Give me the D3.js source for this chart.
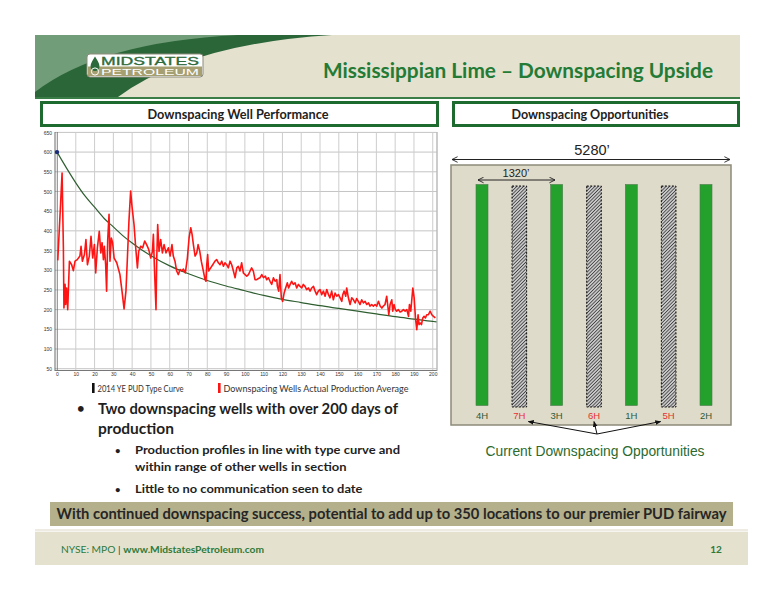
<!DOCTYPE html>
<html lang="en">
<head>
<meta charset="utf-8">
<title>Mississippian Lime – Downspacing Upside</title>
<script src="https://d3js.org/d3.v7.min.js"></script>
<style>
    body { margin: 0; background: #fff; }
    svg { display: block; }
    .cal { font-family: Lato, "Open Sans", sans-serif; }
    .ari { font-family: "Liberation Sans", Arial, sans-serif; }
</style>
</head>
<body>
<div id="slide"></div>
<script>
    // ---- chart data ----
    var typeCurveDays = [0, 5, 10, 15, 20, 25, 30, 35, 40, 45, 50, 60, 70, 80, 90, 100, 110, 120, 130, 140, 150, 160, 170, 180, 190, 200, 202];
    var typeCurveRate = [600, 560, 522, 488, 460, 432, 410, 388, 369, 352, 337, 311, 291, 274, 260, 248, 236, 226, 218, 210, 203, 196, 189, 182, 176, 170, 169];

    // [day, rate] for the downspacing wells average
    var actualProduction = [
        [0.4, 325], [1.1, 391], [1.8, 458], [2.7, 547], [3.4, 357], [3.7, 204], [4.3, 264], [4.6, 213], [5.1, 255], [5.7, 200],
        [6.6, 323], [7.8, 314], [8.7, 299], [9.6, 323], [10.8, 327], [12.2, 336], [12.8, 361], [13.5, 323], [14.6, 340], [15.4, 378],
        [16.2, 314], [17.2, 336], [18.1, 386], [19, 331], [19.9, 365], [20.6, 293], [21.5, 357], [22.5, 399], [23.3, 344], [24, 370],
        [24.7, 327], [25.2, 361], [25.9, 314], [26.4, 247], [27, 378], [27.7, 442], [28.2, 323], [28.9, 382], [29.6, 370], [30.4, 331],
        [31.8, 319], [33.5, 289], [34.6, 247], [35.7, 202], [36.7, 247], [37.4, 323], [38.3, 425], [39.2, 501], [39.9, 463], [41, 416],
        [41.9, 357], [42.8, 306], [43.5, 348], [44.5, 361], [45.6, 357], [46.7, 374], [47.7, 365], [48.8, 353], [49.9, 331], [50.8, 348],
        [51.3, 391], [51.8, 314], [52.4, 238], [52.7, 200], [53.1, 331], [53.6, 416], [54.3, 348], [55.2, 378], [56.1, 344], [57, 365],
        [58, 344], [59.3, 357], [60.2, 336], [61.2, 365], [61.9, 336], [62.8, 323], [63.7, 298], [64.6, 289], [65.5, 302], [66.4, 298],
        [67.3, 303], [68.3, 293], [69.4, 331], [70.3, 382], [71.2, 408], [71.9, 391], [72.6, 365], [73.5, 336], [74.4, 344], [75.1, 365],
        [76, 348], [76.8, 323], [77.9, 298], [78.8, 276], [79.3, 272], [79.7, 314], [80.2, 340], [80.7, 298], [81.8, 306], [82.9, 314],
        [84.1, 323], [85, 327], [85.9, 319], [86.8, 314], [87.7, 323], [88.6, 310], [89.4, 319], [90.3, 314], [91.2, 306], [92.1, 323],
        [93, 314], [93.9, 298], [94.8, 281], [95.7, 306], [96.5, 310], [97.4, 298], [98.3, 319], [99.2, 293], [100.1, 289], [101, 285],
        [101.9, 289], [102.8, 298], [103.6, 306], [104.5, 298], [105.4, 276], [106.3, 276], [107.2, 279], [108.1, 281], [109, 289], [109.9, 281],
        [110.9, 285], [111.6, 276], [112.5, 281], [113.4, 272], [114.3, 264], [115.2, 281], [116.1, 272], [117, 276], [117.3, 259], [118, 247],
        [118.7, 289], [119.4, 230], [120.1, 221], [120.9, 242], [121.7, 255], [122.6, 268], [123.3, 255], [124.1, 264], [124.9, 272], [125.8, 264],
        [126.7, 268], [127.6, 255], [128.5, 264], [129.4, 259], [130.3, 255], [131.1, 264], [132, 259], [132.9, 251], [133.8, 255], [134.7, 247],
        [135.6, 255], [136.5, 259], [137.4, 247], [138.2, 238], [139.1, 247], [140, 251], [140.9, 238], [141.8, 247], [142.7, 234], [143.6, 251],
        [144.5, 238], [145.3, 230], [146.2, 247], [147.1, 225], [148, 242], [148.9, 234], [149.8, 238], [150.7, 230], [151.6, 221], [152.1, 238],
        [152.8, 247], [153.7, 234], [154.2, 255], [155.1, 230], [156, 213], [156.9, 230], [157.8, 225], [158.7, 217], [159.5, 228], [160.4, 221],
        [161.3, 213], [162.2, 225], [163.1, 217], [164, 221], [164.9, 213], [165.8, 217], [166.6, 209], [167.5, 213], [168.4, 209], [169.3, 213],
        [170.2, 209], [171.1, 221], [172, 209], [172.9, 204], [173.7, 209], [174.6, 213], [175.5, 234], [176, 213], [176.6, 187], [177.3, 213],
        [178.2, 225], [178.7, 196], [179.4, 213], [180.1, 200], [180.8, 196], [181.7, 200], [182.6, 194], [183.5, 196], [184.4, 200], [185.3, 196],
        [186.2, 200], [187.1, 183], [187.6, 213], [188.3, 196], [189.4, 255], [190.1, 230], [190.8, 179], [191.5, 149], [192.2, 187], [192.7, 162],
        [193.3, 166], [194, 162], [194.7, 179], [195.4, 183], [196.1, 179], [196.8, 187], [197.7, 187], [198.6, 196], [199.5, 187], [200.4, 183],
        [201.4, 179]
    ];

    var yTicks = [50, 100, 150, 200, 250, 300, 350, 400, 450, 500, 550, 600, 650];
    var xTicks = [0, 10, 20, 30, 40, 50, 60, 70, 80, 90, 100, 110, 120, 130, 140, 150, 160, 170, 180, 190, 200];
    var legendLabels = ["2014 YE PUD Type Curve", "Downspacing Wells Actual Production Average"];

    // ---- section diagram data ----
    var wellNames = ["4H", "7H", "3H", "6H", "1H", "5H", "2H"];
    var wellIsOpportunity = [false, true, false, true, false, true, false];
    var opportunityWells = ["7H", "6H", "5H"];

    // ---- text ----
    var slideTitle = "Mississippian Lime \u2013 Downspacing Upside";
    var bulletMain = ["Two downspacing wells with over 200 days of", "production"];
    var subBullets = [
        ["Production profiles in line with type curve and", "within range of other wells in section"],
        ["Little to no communication seen to date"]
    ];
    var banner = "With continued downspacing success, potential to add up to 350 locations to our premier PUD fairway";

    var svg = d3.select("#slide")
        .append("svg")
        .attr("width", 776)
        .attr("height", 600);

    var defs = svg.append("defs");

    // ---------- header ----------
    svg.append("rect")
        .attr("x", 35).attr("y", 35)
        .attr("width", 705).attr("height", 62)
        .attr("fill", "#e4e1cf");
    svg.append("path")
        .attr("d", "M35,35 H332 Q190,44 118,97 H35 Z")
        .attr("fill", "#2b6638");
    svg.append("path")
        .attr("d", "M35,35 H238 Q100,42 35,92 Z")
        .attr("fill", "#729d79");
    svg.append("rect")
        .attr("x", 35).attr("y", 97)
        .attr("width", 705).attr("height", 2)
        .attr("fill", "#3b7d46");

    // logo
    var logo = svg.append("g").attr("transform", "translate(87,54)");
    logo.append("rect")
        .attr("width", 116).attr("height", 23).attr("rx", 3)
        .attr("fill", "#fff").attr("stroke", "#8d8b7b");
    logo.append("rect")
        .attr("x", 1).attr("y", 12.5)
        .attr("width", 114).attr("height", 9.5)
        .attr("fill", "#a69f71");
    logo.append("path")
        .attr("d", "M8,2.5 C6,6 3.5,9 3.5,12.5 A4.5,4.5 0 0 0 12.5,12.5 C12.5,9 10,6 8,2.5 Z")
        .attr("fill", "#2d6a3b");
    logo.append("circle")
        .attr("cx", 8).attr("cy", 17.5).attr("r", 3.6)
        .attr("fill", "none").attr("stroke", "#fff").attr("stroke-width", 1);
    logo.append("text")
        .attr("class", "ari")
        .attr("x", 14).attr("y", 11)
        .attr("font-size", 10).attr("textLength", 98).attr("lengthAdjust", "spacingAndGlyphs")
        .attr("fill", "#2e6b3a").attr("stroke", "#2e6b3a").attr("stroke-width", 0.3)
        .text("MIDSTATES");
    logo.append("text")
        .attr("class", "ari")
        .attr("x", 14).attr("y", 21.3)
        .attr("font-size", 8.5).attr("textLength", 98).attr("lengthAdjust", "spacingAndGlyphs")
        .attr("fill", "#fff")
        .text("PETROLEUM");

    svg.append("text")
        .attr("class", "cal")
        .attr("x", 713).attr("y", 78)
        .attr("text-anchor", "end")
        .attr("font-size", 21).attr("font-weight", "bold")
        .attr("textLength", 390).attr("lengthAdjust", "spacingAndGlyphs")
        .attr("fill", "#237b36")
        .text(slideTitle);

    // ---------- section headers ----------
    function sectionBox(x, w, label, cx, len) {
        svg.append("rect")
            .attr("x", x).attr("y", 102.5)
            .attr("width", w).attr("height", 23)
            .attr("fill", "#fff").attr("stroke", "#1e6b30").attr("stroke-width", 3);
        svg.append("text")
            .attr("class", "cal")
            .attr("x", cx).attr("y", 118.5)
            .attr("text-anchor", "middle")
            .attr("font-size", 12.5).attr("font-weight", "bold")
            .attr("textLength", len).attr("lengthAdjust", "spacingAndGlyphs")
            .attr("fill", "#222")
            .text(label);
    }
    sectionBox(41.5, 396, "Downspacing Well Performance", 238, 181);
    sectionBox(453.5, 285, "Downspacing Opportunities", 590, 157);

    // ---------- production chart ----------
    var x = d3.scaleLinear().domain([0, 202]).range([57, 436.5]);
    var y = d3.scaleLinear().domain([50, 650]).range([368.7, 132.4]);

    var chart = svg.append("g");

    chart.selectAll(".hgrid")
        .data(yTicks)
        .enter().append("line")
        .attr("class", "hgrid")
        .attr("x1", 55).attr("x2", 436.5)
        .attr("y1", function (d) { return y(d); })
        .attr("y2", function (d) { return y(d); })
        .attr("stroke", "#c4c4c4").attr("stroke-width", 1);

    chart.selectAll(".vgrid")
        .data(xTicks.filter(function (d) { return d > 0; }))
        .enter().append("line")
        .attr("class", "vgrid")
        .attr("x1", function (d) { return x(d); })
        .attr("x2", function (d) { return x(d); })
        .attr("y1", 132.4).attr("y2", 370)
        .attr("stroke", "#cdcdcd").attr("stroke-width", 1);

    // axes frame
    chart.append("line").attr("x1", 55).attr("x2", 55).attr("y1", 132).attr("y2", 371).attr("stroke", "#444").attr("stroke-width", 0.8);
    chart.append("line").attr("x1", 57.3).attr("x2", 57.3).attr("y1", 132).attr("y2", 371).attr("stroke", "#666").attr("stroke-width", 0.8);
    chart.append("line").attr("x1", 55).attr("x2", 437).attr("y1", 370.5).attr("y2", 370.5).attr("stroke", "#777").attr("stroke-width", 1);
    chart.append("line").attr("x1", 437).attr("x2", 437).attr("y1", 132).attr("y2", 371).attr("stroke", "#999").attr("stroke-width", 1);

    var yAxis = chart.append("g")
        .attr("transform", "translate(55,0)")
        .call(d3.axisLeft(y).tickValues(yTicks).tickSize(0).tickPadding(3));
    var xAxis = chart.append("g")
        .attr("transform", "translate(0,370)")
        .call(d3.axisBottom(x).tickValues(xTicks).tickSize(0).tickPadding(2));
    [yAxis, xAxis].forEach(function (a) {
        a.select(".domain").remove();
        a.selectAll("text")
            .attr("font-family", "Liberation Sans, Arial, sans-serif")
            .attr("font-size", 5)
            .attr("fill", "#333");
    });

    var typeLine = d3.line()
        .x(function (d, i) { return x(typeCurveDays[i]); })
        .y(function (d) { return y(d); })
        .curve(d3.curveMonotoneX);

    chart.append("path")
        .attr("d", typeLine(typeCurveRate))
        .attr("fill", "none")
        .attr("stroke", "#2f5e30")
        .attr("stroke-width", 1.2);

    var actualLine = d3.line()
        .x(function (d) { return x(d[0]); })
        .y(function (d) { return y(d[1]); });

    chart.append("path")
        .attr("d", actualLine(actualProduction))
        .attr("fill", "none")
        .attr("stroke", "#ff1414")
        .attr("stroke-width", 1.6)
        .attr("stroke-linejoin", "round");

    chart.append("circle")
        .attr("cx", x(typeCurveDays[0]))
        .attr("cy", y(typeCurveRate[0]))
        .attr("r", 2.2)
        .attr("fill", "#1b2c78");

    // legend
    var legendX = [92, 218];
    var legendColor = ["#111", "#ff1414"];
    var legendLen = [86, 185];
    legendLabels.forEach(function (label, i) {
        chart.append("rect")
            .attr("x", legendX[i]).attr("y", 383)
            .attr("width", 2.6).attr("height", 10)
            .attr("fill", legendColor[i]);
        chart.append("text")
            .attr("class", "cal")
            .attr("x", legendX[i] + 5.5).attr("y", 391.5)
            .attr("font-size", 10)
            .attr("textLength", legendLen[i]).attr("lengthAdjust", "spacingAndGlyphs")
            .attr("fill", "#333")
            .text(label);
    });

    // ---------- bullets ----------
    var txt = svg.append("g").attr("class", "cal").attr("fill", "#1f1f1f").attr("font-weight", "bold");
    txt.append("text").attr("x", 77).attr("y", 413).attr("font-size", 13).text("\u2022");
    txt.append("text").attr("x", 98).attr("y", 414).attr("font-size", 15.5)
        .attr("textLength", 300).attr("lengthAdjust", "spacingAndGlyphs").text(bulletMain[0]);
    txt.append("text").attr("x", 98).attr("y", 434).attr("font-size", 15.5)
        .attr("textLength", 76).attr("lengthAdjust", "spacingAndGlyphs").text(bulletMain[1]);

    var subY = [[454, 471], [493]];
    var subLen = [[265, 211.5], [227.5]];
    subBullets.forEach(function (lines, i) {
        txt.append("text").attr("x", 115).attr("y", subY[i][0]).attr("font-size", 9.5).text("\u2022");
        lines.forEach(function (line, j) {
            txt.append("text")
                .attr("x", 135).attr("y", subY[i][j])
                .attr("font-size", 12)
                .attr("textLength", subLen[i][j]).attr("lengthAdjust", "spacingAndGlyphs")
                .text(line);
        });
    });

    // ---------- section diagram ----------
    var hatch = defs.append("pattern")
        .attr("id", "hatch")
        .attr("patternUnits", "userSpaceOnUse")
        .attr("width", 2.4).attr("height", 2.4)
        .attr("patternTransform", "rotate(45)");
    hatch.append("rect").attr("width", 2.4).attr("height", 2.4).attr("fill", "#c8c8c8");
    hatch.append("line").attr("x1", 0).attr("y1", 0).attr("x2", 0).attr("y2", 2.4)
        .attr("stroke", "#2e2e2e").attr("stroke-width", 1.4);

    defs.append("marker")
        .attr("id", "vhead")
        .attr("viewBox", "0 0 10 10")
        .attr("refX", 9).attr("refY", 5)
        .attr("markerWidth", 7).attr("markerHeight", 7)
        .attr("markerUnits", "userSpaceOnUse")
        .attr("orient", "auto-start-reverse")
        .append("path")
        .attr("d", "M1,1 L9,5 L1,9")
        .attr("fill", "none").attr("stroke", "#222").attr("stroke-width", 1.3);

    defs.append("marker")
        .attr("id", "fhead")
        .attr("viewBox", "0 0 10 10")
        .attr("refX", 9).attr("refY", 5)
        .attr("markerWidth", 6).attr("markerHeight", 6)
        .attr("markerUnits", "userSpaceOnUse")
        .attr("orient", "auto")
        .append("path")
        .attr("d", "M0,1 L10,5 L0,9 Z")
        .attr("fill", "#111");

    var diag = svg.append("g");

    diag.append("text")
        .attr("class", "ari")
        .attr("x", 592).attr("y", 155)
        .attr("text-anchor", "middle")
        .attr("font-size", 14.5).attr("fill", "#222")
        .text("5280\u2019");
    diag.append("line")
        .attr("x1", 452).attr("x2", 730).attr("y1", 159.5).attr("y2", 159.5)
        .attr("stroke", "#222").attr("stroke-width", 1)
        .attr("marker-start", "url(#vhead)").attr("marker-end", "url(#vhead)");

    diag.append("rect")
        .attr("x", 451).attr("y", 165)
        .attr("width", 280).attr("height", 260)
        .attr("fill", "#dfdbca").attr("stroke", "#8c8a7a").attr("stroke-width", 1.5);

    diag.append("text")
        .attr("class", "ari")
        .attr("x", 516).attr("y", 177)
        .attr("text-anchor", "middle")
        .attr("font-size", 11).attr("fill", "#222")
        .text("1320\u2019");
    diag.append("line")
        .attr("x1", 478).attr("x2", 555).attr("y1", 180).attr("y2", 180)
        .attr("stroke", "#222").attr("stroke-width", 1)
        .attr("marker-start", "url(#vhead)").attr("marker-end", "url(#vhead)");

    var wx = d3.scalePoint().domain(wellNames).range([482, 706]);

    diag.selectAll(".well")
        .data(wellNames)
        .enter().append("rect")
        .attr("class", "well")
        .attr("x", function (d, i) { return wx(d) - (wellIsOpportunity[i] ? 7.3 : 6); })
        .attr("y", function (d, i) { return wellIsOpportunity[i] ? 186 : 184.5; })
        .attr("width", function (d, i) { return wellIsOpportunity[i] ? 14.6 : 12; })
        .attr("height", 221)
        .attr("fill", function (d, i) { return wellIsOpportunity[i] ? "url(#hatch)" : "#24a02c"; })
        .attr("stroke", function (d, i) { return wellIsOpportunity[i] ? "#111" : "#4c7c4c"; })
        .attr("stroke-width", function (d, i) { return wellIsOpportunity[i] ? 1 : 0.6; })
        .attr("stroke-dasharray", function (d, i) { return wellIsOpportunity[i] ? "2,1.5" : null; });

    diag.selectAll(".wlabel")
        .data(wellNames)
        .enter().append("text")
        .attr("class", "wlabel ari")
        .attr("x", function (d) { return wx(d); })
        .attr("y", 418.5)
        .attr("text-anchor", "middle")
        .attr("font-size", 9.5)
        .attr("fill", function (d, i) { return wellIsOpportunity[i] ? "#e8302e" : "#2f5a36"; })
        .text(function (d) { return d; });

    var arrowOrigin = [597, 434];
    var arrowShift = [9, 0, -8];
    opportunityWells.forEach(function (w, i) {
        diag.append("line")
            .attr("x1", arrowOrigin[0]).attr("y1", arrowOrigin[1])
            .attr("x2", wx(w) + arrowShift[i]).attr("y2", 421.5)
            .attr("stroke", "#111").attr("stroke-width", 1)
            .attr("marker-end", "url(#fhead)");
    });

    diag.append("text")
        .attr("class", "ari")
        .attr("x", 595).attr("y", 456)
        .attr("text-anchor", "middle")
        .attr("font-size", 14)
        .attr("textLength", 219).attr("lengthAdjust", "spacingAndGlyphs")
        .attr("fill", "#2c6a2e")
        .text("Current Downspacing Opportunities");

    // ---------- banner and footer ----------
    svg.append("rect")
        .attr("x", 50).attr("y", 502)
        .attr("width", 683).attr("height", 24)
        .attr("fill", "#b4b08b");
    svg.append("text")
        .attr("class", "cal")
        .attr("x", 391.5).attr("y", 519)
        .attr("text-anchor", "middle")
        .attr("font-size", 15).attr("font-weight", "bold")
        .attr("textLength", 670).attr("lengthAdjust", "spacingAndGlyphs")
        .attr("fill", "#262626")
        .text(banner);

    svg.append("rect")
        .attr("x", 35).attr("y", 529)
        .attr("width", 713).attr("height", 2.5)
        .attr("fill", "#eeece2");
    svg.append("rect")
        .attr("x", 35).attr("y", 532)
        .attr("width", 713).attr("height", 33)
        .attr("fill", "#e4e1cf");

    var foot = svg.append("text")
        .attr("class", "cal")
        .attr("x", 61).attr("y", 553)
        .attr("font-size", 10)
        .attr("textLength", 203).attr("lengthAdjust", "spacingAndGlyphs")
        .attr("fill", "#2d7a3a");
    foot.append("tspan").text("NYSE: MPO ");
    foot.append("tspan").attr("fill", "#333").text("| ");
    foot.append("tspan").attr("font-weight", "bold").text("www.MidstatesPetroleum.com");

    svg.append("text")
        .attr("class", "cal")
        .attr("x", 716).attr("y", 553)
        .attr("text-anchor", "middle")
        .attr("font-size", 10).attr("font-weight", "bold")
        .attr("fill", "#2d7a3a")
        .text("12");
</script>
</body>
</html>
